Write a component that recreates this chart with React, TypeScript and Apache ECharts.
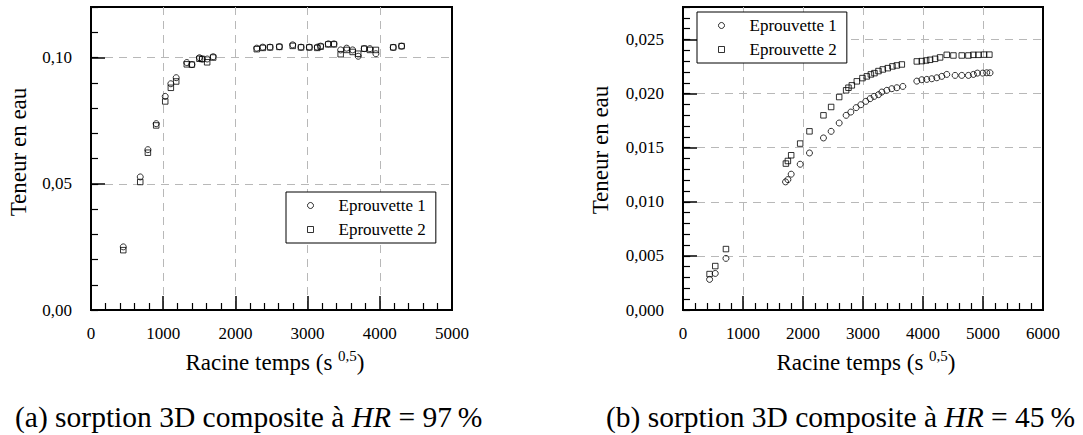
import React, { useEffect, useRef } from "react";
import * as echarts from "echarts";

const FONT = "Liberation Serif";

const seriesNames = ["Eprouvette 1", "Eprouvette 2"];

// (a) HR = 97 %
const leftXRange = [0, 5000];
const leftXStep = 1000;
const leftYRange = [0, 0.12];
const leftYStep = 0.05;
const leftYMinorStep = 0.01;

const leftEp1: [number, number][] = [
  [447, 0.025], [682, 0.0527], [788, 0.0635], [903, 0.0738], [1028, 0.0846],
  [1106, 0.0896], [1180, 0.092], [1327, 0.098], [1397, 0.0972], [1502, 0.0999],
  [1540, 0.0994], [1609, 0.0994], [1692, 0.1003], [2296, 0.1037], [2379, 0.1041],
  [2480, 0.1041], [2609, 0.1043], [2794, 0.105], [2909, 0.1041], [3024, 0.1041],
  [3134, 0.1041], [3181, 0.1045], [3286, 0.1054], [3365, 0.1054], [3458, 0.1030],
  [3541, 0.1037], [3624, 0.1030], [3701, 0.1005], [3784, 0.1035], [3863, 0.1035],
  [3946, 0.1015], [4186, 0.104], [4302, 0.1045],
];
const leftEp2: [number, number][] = [
  [447, 0.0237], [682, 0.0507], [788, 0.0623], [903, 0.0731], [1028, 0.0826],
  [1106, 0.088], [1180, 0.0905], [1327, 0.0973], [1397, 0.0972], [1502, 0.0995],
  [1540, 0.0994], [1609, 0.0981], [1692, 0.1000], [2296, 0.1033], [2379, 0.1038],
  [2480, 0.1040], [2609, 0.1042], [2794, 0.1046], [2909, 0.1040], [3024, 0.1040],
  [3134, 0.1038], [3181, 0.1043], [3286, 0.1052], [3365, 0.1052], [3458, 0.1013],
  [3541, 0.1030], [3624, 0.1022], [3701, 0.1015], [3784, 0.1035], [3863, 0.1030],
  [3946, 0.1030], [4186, 0.104], [4302, 0.1045],
];

// (b) HR = 45 %
const rightXRange = [0, 6000];
const rightXStep = 1000;
const rightYRange = [0, 0.028];
const rightYStep = 0.005;
const rightYMinorStep = 0.001;

const rightEp1: [number, number][] = [
  [443, 0.00283], [538, 0.00338], [716, 0.00477], [1709, 0.01184], [1748, 0.01205],
  [1803, 0.01255], [1953, 0.01347], [2108, 0.01451], [2341, 0.0159], [2469, 0.01651],
  [2603, 0.01728], [2719, 0.01799], [2797, 0.01829], [2886, 0.0187], [2964, 0.01897],
  [3047, 0.01928], [3119, 0.01953], [3186, 0.01974], [3258, 0.0199], [3314, 0.02014],
  [3397, 0.0203], [3480, 0.02045], [3564, 0.02054], [3664, 0.02066], [3897, 0.02115],
  [3980, 0.02128], [4063, 0.02131], [4146, 0.02137], [4230, 0.02146], [4313, 0.02159],
  [4396, 0.02177], [4535, 0.02168], [4646, 0.02168], [4757, 0.02168], [4840, 0.02177],
  [4907, 0.02189], [4996, 0.02189], [5062, 0.02192], [5117, 0.02192],
];
const rightEp2: [number, number][] = [
  [443, 0.00332], [538, 0.00406], [716, 0.00563], [1715, 0.01353], [1748, 0.01377],
  [1803, 0.0143], [1953, 0.01538], [2108, 0.01651], [2341, 0.01799], [2469, 0.01876],
  [2603, 0.01968], [2719, 0.0203], [2758, 0.02054], [2814, 0.02076], [2897, 0.02113],
  [2991, 0.02143], [3064, 0.02159], [3131, 0.02177], [3191, 0.02189], [3258, 0.02208],
  [3330, 0.02223], [3413, 0.02235], [3491, 0.02251], [3564, 0.0226], [3647, 0.02269],
  [3897, 0.02297], [3980, 0.023], [4052, 0.02306], [4118, 0.02312], [4202, 0.02321],
  [4285, 0.02334], [4396, 0.02358], [4507, 0.02352], [4646, 0.02352], [4757, 0.02352],
  [4840, 0.02358], [4923, 0.02358], [5017, 0.0236], [5106, 0.0236],
];

const yTitle = "Teneur en eau";
const xTitle = "{n|Racine temps (s }{s|0,5}{n|)}";
const captionA = "{n|(a) sorption 3D composite à }{i|HR}{n| = 97\u2009%}";
const captionB = "{n|(b) sorption 3D composite à }{i|HR}{n| = 45\u2009%}";

export default function App() {
  const ref = useRef<HTMLDivElement>(null);
  useEffect(() => {
    const chart = echarts.init(ref.current!, null, { renderer: "svg" });

    const grids = [
      { left: 91, top: 7, width: 361, height: 303 },
      { left: 683, top: 7, width: 360, height: 303 },
    ];

    const splitStyle = { color: "#b8b8b8", type: [8, 6], width: 1 };

    const xAxis = (gridIndex: number, range: number[], step: number) => ({
      type: "value",
      gridIndex,
      min: range[0],
      max: range[1],
      interval: step,
      axisLine: { show: true, onZero: false, lineStyle: { color: "#000", width: 2 } },
      axisTick: { show: true, inside: true, length: 14, lineStyle: { color: "#000", width: 1.5 } },
      minorTick: { show: true, splitNumber: 5, length: 7, lineStyle: { color: "#000", width: 1.2 } },
      axisLabel: {
        color: "#000",
        fontFamily: FONT,
        fontSize: 17,
        margin: 15,
        formatter: (v: number) => String(Math.round(v)),
      },
      splitLine: { show: true, showMinLine: false, showMaxLine: false, lineStyle: splitStyle },
      minorSplitLine: { show: false },
    });

    const yMajor = (gridIndex: number, range: number[], step: number, digits: number) => ({
      type: "value",
      gridIndex,
      position: "left",
      min: range[0],
      max: range[1],
      interval: step,
      axisLine: { show: true, onZero: false, lineStyle: { color: "#000", width: 2 } },
      axisTick: { show: true, inside: true, length: 14, lineStyle: { color: "#000", width: 1.5 } },
      axisLabel: {
        color: "#000",
        fontFamily: FONT,
        fontSize: 17,
        margin: 19,
        showMaxLabel: false,
        formatter: (v: number) => v.toFixed(digits).replace(".", ","),
      },
      splitLine: { show: true, showMinLine: false, showMaxLine: false, lineStyle: splitStyle },
    });

    const yMinor = (gridIndex: number, range: number[], step: number) => ({
      type: "value",
      gridIndex,
      position: "left",
      offset: 0,
      min: range[0],
      max: range[1],
      interval: step,
      axisLine: { show: false },
      axisTick: { show: true, inside: true, length: 7, lineStyle: { color: "#000", width: 1.2 } },
      axisLabel: { show: false },
      splitLine: { show: false },
    });

    const scatter = (name: string, symbol: string, size: number, xi: number, yi: number, data: [number, number][]) => ({
      type: "scatter",
      name,
      xAxisIndex: xi,
      yAxisIndex: yi,
      data,
      symbol,
      symbolSize: size,
      itemStyle: { color: "rgba(255,255,255,0)", borderColor: "#000", borderWidth: 1 },
      emphasis: { disabled: true },
      z: 3,
    });

    const legend = (left: number, top: number) => ({
      left,
      top,
      orient: "vertical",
      data: seriesNames,
      selectedMode: false,
      itemWidth: 6,
      itemHeight: 6,
      itemGap: 5,
      padding: [4, 10, 4, 21],
      borderColor: "#000",
      borderWidth: 1,
      borderRadius: 0,
      backgroundColor: "#fff",
      itemStyle: { borderWidth: 1 },
      textStyle: { fontFamily: FONT, fontSize: 17, color: "#000", lineHeight: 19, padding: [0, 0, 0, 20] },
      z: 10,
    });

    const titleRich = {
      n: { fontFamily: FONT, fontSize: 23, lineHeight: 28, fill: "#000", color: "#000" },
      s: { fontFamily: FONT, fontSize: 15, lineHeight: 10, verticalAlign: "top", fill: "#000", color: "#000" },
    };
    const capRich = {
      n: { fontFamily: FONT, fontSize: 29.5, lineHeight: 34, color: "#000", fill: "#000" },
      i: { fontFamily: FONT, fontSize: 29.5, lineHeight: 34, fontStyle: "italic", color: "#000", fill: "#000" },
    };

    const graphic = [
      { type: "text", x: 18, y: 152, rotation: Math.PI / 2, style: { text: yTitle, fontFamily: FONT, fontSize: 23, fill: "#000", align: "center", verticalAlign: "middle" } },
      { type: "text", x: 600, y: 150, rotation: Math.PI / 2, style: { text: yTitle, fontFamily: FONT, fontSize: 23, fill: "#000", align: "center", verticalAlign: "middle" } },
      { type: "text", x: 275, y: 362, style: { text: xTitle, rich: titleRich, fontFamily: FONT, fill: "#000", align: "center", verticalAlign: "middle" } },
      { type: "text", x: 866, y: 362, style: { text: xTitle, rich: titleRich, fontFamily: FONT, fill: "#000", align: "center", verticalAlign: "middle" } },
      { type: "text", x: 15, y: 417, style: { text: captionA, rich: capRich, fontFamily: FONT, fill: "#000", align: "left", verticalAlign: "middle" } },
      { type: "text", x: 606, y: 417, style: { text: captionB, rich: capRich, fontFamily: FONT, fill: "#000", align: "left", verticalAlign: "middle" } },
    ];

    chart.setOption({
      animation: false,
      backgroundColor: "#fff",
      textStyle: { fontFamily: FONT },
      grid: grids.map((g) => ({ ...g, show: true, borderColor: "#000", borderWidth: 2, backgroundColor: "transparent", containLabel: false })),
      xAxis: [xAxis(0, leftXRange, leftXStep), xAxis(1, rightXRange, rightXStep)],
      yAxis: [
        yMajor(0, leftYRange, leftYStep, 2),
        yMinor(0, leftYRange, leftYMinorStep),
        yMajor(1, rightYRange, rightYStep, 3),
        yMinor(1, rightYRange, rightYMinorStep),
      ],
      legend: [legend(286, 192), legend(697, 12)],
      series: [
        scatter(seriesNames[0], "circle", 6, 0, 0, leftEp1),
        scatter(seriesNames[1], "rect", 5.5, 0, 0, leftEp2),
        scatter(seriesNames[0], "circle", 6, 1, 2, rightEp1),
        scatter(seriesNames[1], "rect", 5.5, 1, 2, rightEp2),
      ],
      graphic,
    });
    return () => chart.dispose();
  }, []);
  return (
    <div
      ref={ref}
      style={{ position: "absolute", left: 0, top: 0, width: 1083, height: 435, background: "#fff" }}
    />
  );
}
